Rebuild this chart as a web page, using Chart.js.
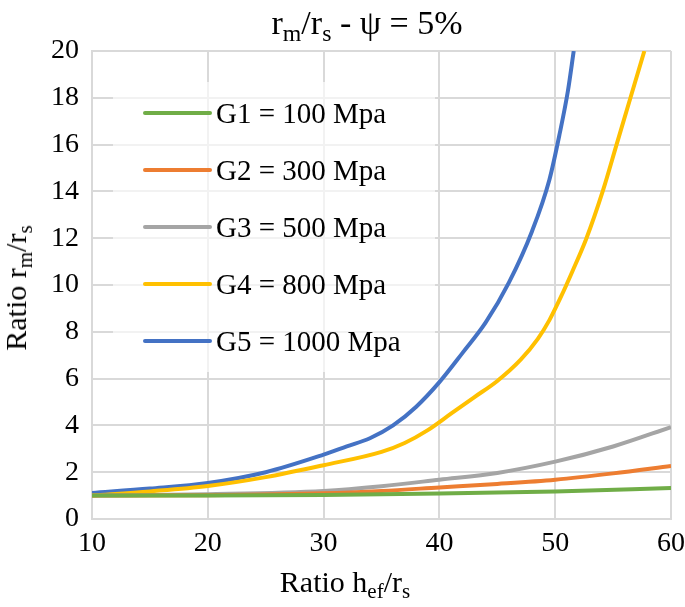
<!DOCTYPE html>
<html>
<head>
<meta charset="utf-8">
<script src="https://cdn.jsdelivr.net/npm/chart.js@4"></script>
<style>
  body { margin: 0; background: #fff; }
  #wrap { position: relative; width: 685px; height: 607px; font-family: 'Liberation Serif', 'Times New Roman', serif; color: #000; }
  #chart { position: absolute; left: 0; top: 0; }
  .lbl { position: absolute; white-space: nowrap; line-height: 1; }
  .lbl span { font-size: 0.7em; position: relative; top: 0.3em; }
  #title { left: 367px; top: 23px; font-size: 34px; transform: translate(-50%, -50%); }
  #xtitle { left: 345px; top: 582px; font-size: 30px; transform: translate(-50%, -50%); }
  #ytitle { left: 16px; top: 288px; font-size: 30px; transform: translate(-50%, -50%) rotate(-90deg); }
</style>
</head>
<body>
<div id="wrap">
  <canvas id="chart" width="685" height="607"></canvas>
  <div id="title" class="lbl">r<span>m</span>/r<span>s</span> - ψ = 5%</div>
  <div id="xtitle" class="lbl">Ratio h<span>ef</span>/r<span>s</span></div>
  <div id="ytitle" class="lbl">Ratio r<span>m</span>/r<span>s</span></div>
</div>
<script>
const seriesNames = ['G1 = 100 Mpa', 'G2 = 300 Mpa', 'G3 = 500 Mpa', 'G4 = 800 Mpa', 'G5 = 1000 Mpa'];
const seriesColors = ['#70ad47', '#ed7d31', '#a5a5a5', '#ffc000', '#4472c4'];

const g1X = [10, 20, 30, 40, 50, 60];
const g1Y = [1.0, 1.0, 1.03, 1.09, 1.18, 1.32];
const g2X = [10, 20, 30, 35, 40, 45, 50, 55, 60];
const g2Y = [1.0, 1.02, 1.1, 1.2, 1.35, 1.5, 1.68, 1.95, 2.27];
const g3X = [10, 20, 30, 35, 40, 45, 50, 55, 60];
const g3Y = [1.0, 1.06, 1.2, 1.4, 1.68, 1.97, 2.45, 3.1, 3.93];
const g4X = [10, 15, 20, 25, 30, 35, 37, 39, 41, 43, 45, 47, 48.5, 49.5, 50.5, 51.5, 52.7, 54.1, 55.3, 56.5, 57.7];
const g4Y = [1.0, 1.18, 1.41, 1.79, 2.3, 2.87, 3.25, 3.8, 4.5, 5.2, 5.9, 6.8, 7.7, 8.5, 9.5, 10.6, 12, 14, 16, 18, 20];
const g5X = [10, 15, 20, 25, 30, 32, 34, 36, 38, 40, 42, 44, 46, 48, 49.5, 50.4, 51.1, 51.6];
const g5Y = [1.11, 1.3, 1.54, 2.0, 2.75, 3.1, 3.45, 4.0, 4.8, 5.85, 7.1, 8.4, 10.1, 12.3, 14.5, 16.5, 18.3, 20];

const xTicks = [10, 20, 30, 40, 50, 60];
const yTicks = [0, 2, 4, 6, 8, 10, 12, 14, 16, 18, 20];

const allX = [g1X, g2X, g3X, g4X, g5X];
const allY = [g1Y, g2Y, g3Y, g4Y, g5Y];

const datasets = seriesNames.map((name, i) => ({
    label: name,
    data: allX[i].map((x, j) => ({ x: x, y: allY[i][j] })),
    borderColor: seriesColors[i],
    backgroundColor: seriesColors[i],
    borderWidth: 4,
    pointRadius: 0,
    showLine: true,
    cubicInterpolationMode: 'monotone',
    fill: false
}));

const gridColor = '#d9d9d9';
const fontFamily = "'Liberation Serif', 'Times New Roman', serif";

// legend drawn inside the plot area, over a translucent white box
const insideLegend = {
    id: 'insideLegend',
    beforeDatasetsDraw(chart) {
        const ctx = chart.ctx;
        ctx.save();
        ctx.fillStyle = 'rgba(255,255,255,0.65)';
        ctx.fillRect(113, 82, 322, 290);
        ctx.font = '29px ' + fontFamily;
        ctx.textBaseline = 'alphabetic';
        ctx.textAlign = 'left';
        chart.data.datasets.forEach((ds, i) => {
            const y = 113 + i * 57;
            ctx.strokeStyle = ds.borderColor;
            ctx.lineWidth = 4;
            ctx.lineCap = 'round';
            ctx.beginPath();
            ctx.moveTo(145, y);
            ctx.lineTo(210, y);
            ctx.stroke();
            ctx.fillStyle = '#000';
            ctx.fillText(ds.label, 216, y + 10);
        });
        ctx.restore();
    }
};

new Chart(document.getElementById('chart'), {
    type: 'scatter',
    data: { datasets: datasets },
    plugins: [insideLegend],
    options: {
        responsive: false,
        animation: false,
        layout: { padding: { top: 51, right: 14, left: 0, bottom: 0 } },
        plugins: {
            legend: { display: false },
            title: { display: false },
            tooltip: { enabled: false }
        },
        scales: {
            x: {
                type: 'linear',
                min: 10,
                max: 60,
                afterBuildTicks: (axis) => { axis.ticks = xTicks.map(v => ({ value: v })); },
                afterFit: (axis) => {
                    axis.height = 88;
                    axis.paddingLeft = 0;
                    axis.paddingRight = 0;
                },
                ticks: {
                    color: '#000',
                    font: { family: fontFamily, size: 28 },
                    padding: 8,
                    maxRotation: 0
                },
                grid: { color: gridColor, lineWidth: 2, drawTicks: false },
                border: { color: gridColor, width: 2 }
            },
            y: {
                type: 'linear',
                min: 0,
                max: 20,
                afterBuildTicks: (axis) => { axis.ticks = yTicks.map(v => ({ value: v })); },
                afterFit: (axis) => { axis.width = 92; },
                ticks: {
                    color: '#000',
                    font: { family: fontFamily, size: 28 },
                    padding: 13
                },
                grid: { color: gridColor, lineWidth: 2, drawTicks: false },
                border: { color: gridColor, width: 2 }
            }
        }
    }
});
</script>
</body>
</html>
